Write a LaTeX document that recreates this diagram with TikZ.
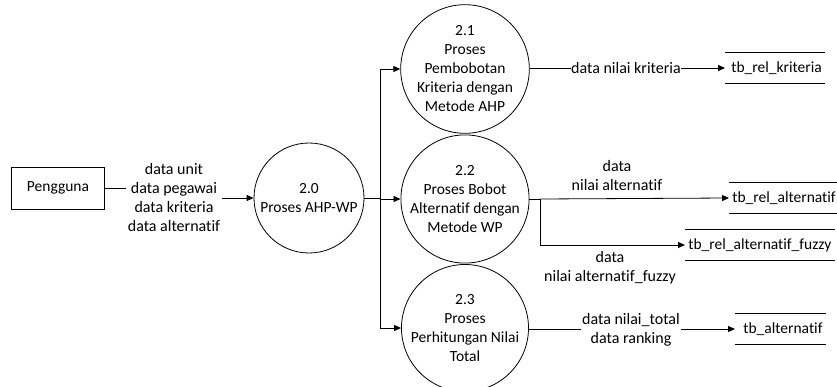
\documentclass[tikz,border=0pt]{standalone}
\usepackage{fontspec}
\setmainfont{Carlito}[Ligatures=NoCommon]
\usetikzlibrary{arrows.meta}
\begin{document}
\begin{tikzpicture}[x=1pt,y=1pt,
  every node/.style={font=\fontsize{15.5}{19}\selectfont},
  line width=0.8pt,
  proc/.style={draw,circle,align=center,inner sep=0pt},
  ext/.style={draw,rectangle,minimum width=93pt,minimum height=42pt,inner sep=0pt},
  store/.style={anchor=west,minimum height=30pt,inner xsep=3pt,inner ysep=0pt,font=\fontsize{15.5}{19}\selectfont},
  lbl/.style={align=center,inner sep=1pt,font=\fontsize{16}{19}\selectfont},
  flow/.style={-{Triangle[length=7pt,width=6pt]}}]
\useasboundingbox (0,0) rectangle (837,-387);

\node[ext] (peng) at (58,-188) {Pengguna};
\node[proc,minimum size=110pt] (p20) at (309,-198) {2.0\\Proses AHP-WP};
\node[proc,minimum size=124pt] (p21) at (465,-69) {2.1\\Proses\\Pembobotan\\Kriteria dengan\\Metode AHP};
\node[proc,minimum size=124pt] (p22) at (465,-199) {2.2\\Proses Bobot\\Alternatif dengan\\Metode WP};
\node[proc,minimum size=122pt] (p23) at (465,-328) {2.3\\Proses\\Perhitungan Nilai\\Total};

\node[store] (s1) at (725,-68) {\hspace{3pt}tb\_rel\_kriteria\hspace{6pt}};
\node[store] (s2) at (729,-198) {tb\_rel\_alternatif\hspace{10pt}};
\node[store] (s3) at (685,-245) {tb\_rel\_alternatif\_fuzzy\hspace{6pt}};
\node[store] (s4) at (735,-329) {\hspace{5pt}tb\_alternatif\hspace{8pt}};
\foreach \s in {s1,s2,s3,s4}{
  \draw (\s.north west) -- (\s.north east);
  \draw (\s.south west) -- (\s.south east);
}

% Pengguna -> 2.0
\node[lbl] (l0) at (174,-198) {data unit\\data pegawai\\data kriteria\\data alternatif};
\draw (peng.east) -- (peng.east -| l0.west);
\draw[flow] (l0.east |- p20.west) -- (p20.west);

% 2.0 -> trunk
\draw (p20.east) -- ++(16,0) coordinate (j);
\draw[flow] (j) |- (p21.west);
\draw[flow] (j) |- (p22.west);
\draw[flow] (j) |- (p23.west);

% 2.1 -> store
\node[lbl,inner sep=0pt] (l1) at (626,-68) {data nilai kriteria};
\draw (p21.east |- l1.west) -- (l1.west);
\draw[flow] (l1.east) -- (s1.west);

% 2.2 -> stores
\draw (p22.east) -- ++(11,0) coordinate (k);
\draw[flow] (k) -- (s2.west);
\draw[flow] (k) |- (s3.west);
\node[lbl] (l2) at (617,-176) {data\\nilai alternatif};
\node[lbl] (l3) at (610,-268) {data\\nilai alternatif\_fuzzy};

% 2.3 -> store
\node[lbl] (l4) at (631,-330) {data nilai\_total\\data ranking};
\draw (p23.east |- s4.west) -- (l4.west |- s4.west);
\draw[flow] (l4.east |- s4.west) -- (s4.west);
\end{tikzpicture}
\end{document}
